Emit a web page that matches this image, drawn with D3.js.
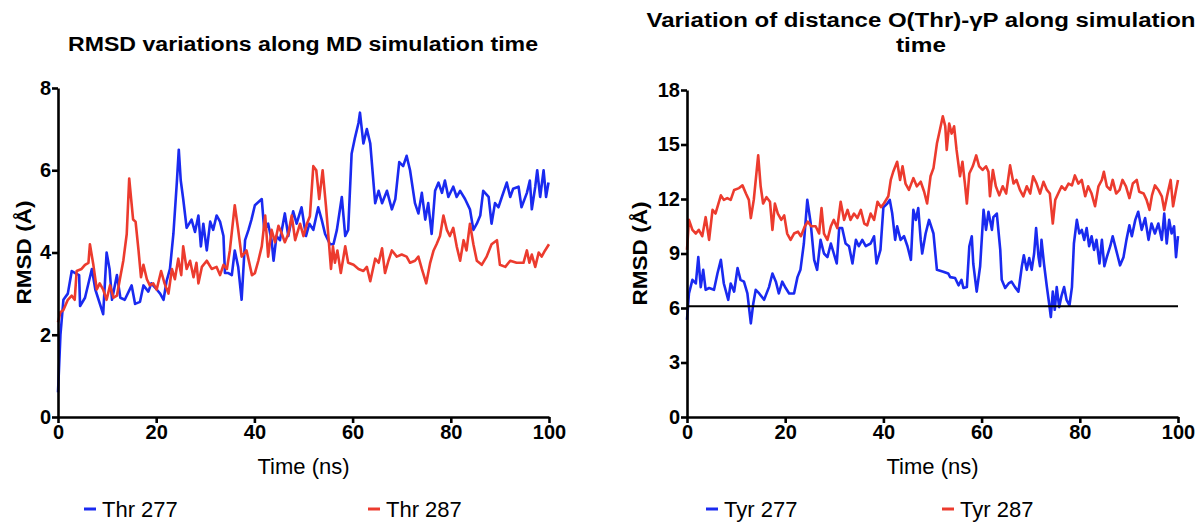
<!DOCTYPE html>
<html>
<head>
<meta charset="utf-8">
<script src="https://cdn.jsdelivr.net/npm/d3@7"></script>
<style>
  body { margin: 0; background: #fff; }
  svg { display: block; font-family: "Liberation Sans", Arial, sans-serif; }
</style>
</head>
<body>
<svg id="chart" width="1202" height="523"></svg>
<script>
// left panel: RMSD of Thr 277 / Thr 287
var thr277Time = [0, 0.5, 1.1, 2.0, 2.8, 3.5, 4.3, 4.5, 5.5, 6.9, 7.6, 9.2, 9.9, 10.5, 11.0, 12.0, 12.7, 13.6, 15.0, 15.7, 16.7, 17.4, 18.4, 19.0, 20.1, 20.8, 21.5, 22.1, 22.8, 23.5, 24.2, 24.6, 25.0, 25.5, 26.2, 27.2, 27.9, 28.6, 29.1, 29.6, 30.3, 31.0, 31.6, 32.3, 33.0, 33.7, 34.0, 34.7, 35.4, 36.0, 36.7, 37.4, 38.1, 38.8, 39.4, 40.1, 41.5, 42.0, 42.8, 43.5, 43.9, 44.5, 45.2, 46.2, 46.9, 47.9, 48.6, 49.6, 50.5, 51.2, 52.0, 53.0, 53.7, 54.4, 55.4, 56.1, 56.8, 57.8, 58.5, 59.1, 59.8, 60.5, 61.2, 61.5, 62.2, 62.9, 63.6, 64.6, 65.3, 66.0, 67.0, 68.0, 68.7, 69.5, 70.3, 71.0, 71.7, 72.7, 73.4, 74.1, 74.8, 75.4, 76.1, 76.8, 77.5, 78.2, 78.8, 79.5, 80.5, 81.2, 81.9, 82.9, 83.9, 84.6, 85.3, 86.0, 86.6, 87.7, 88.3, 89.0, 89.7, 90.4, 91.4, 92.1, 92.7, 93.8, 94.4, 95.5, 96.1, 96.5, 97.2, 97.6, 98.2, 98.9, 99.4, 99.9];
var thr277Rmsd = [0.6, 2.0, 2.85, 3.0, 3.55, 3.5, 3.45, 2.7, 2.9, 3.6, 3.1, 2.5, 4.0, 3.6, 2.85, 3.45, 2.9, 2.85, 3.2, 2.75, 2.8, 3.2, 3.05, 3.25, 3.1, 3.0, 2.85, 3.3, 3.6, 4.45, 5.7, 6.5, 5.75, 5.3, 4.6, 4.8, 4.5, 4.9, 4.15, 4.7, 4.05, 4.75, 4.55, 4.9, 4.75, 4.4, 3.5, 3.5, 3.45, 4.05, 3.65, 2.85, 4.3, 4.55, 4.8, 5.15, 5.3, 4.55, 4.7, 4.3, 3.8, 4.4, 4.3, 4.95, 4.4, 5.0, 4.7, 5.1, 4.4, 4.7, 4.55, 5.1, 4.8, 4.45, 4.2, 4.2, 4.55, 5.35, 4.4, 4.55, 6.4, 6.8, 7.15, 7.4, 6.65, 7.0, 6.65, 5.2, 5.5, 5.2, 5.5, 5.05, 5.3, 6.2, 6.1, 6.35, 6.0, 5.2, 4.95, 5.45, 4.8, 5.2, 4.45, 5.5, 5.7, 5.45, 5.75, 5.35, 5.6, 5.35, 5.5, 5.3, 5.05, 4.55, 4.7, 4.9, 5.5, 5.35, 4.7, 5.2, 5.1, 5.35, 5.7, 5.35, 5.55, 5.6, 5.1, 5.45, 5.75, 5.05, 5.6, 6.0, 5.35, 6.0, 5.35, 5.7];

var thr287Time = [0, 0.5, 1.1, 2.0, 2.8, 3.4, 3.8, 4.8, 5.5, 6.2, 6.5, 7.2, 7.9, 8.5, 9.2, 9.9, 10.6, 11.3, 12.0, 12.6, 13.3, 14.0, 14.5, 14.9, 15.3, 15.8, 16.4, 16.9, 17.4, 18.1, 18.7, 19.4, 20.1, 21.0, 21.7, 22.5, 23.2, 23.8, 24.5, 25.1, 25.5, 26.2, 26.9, 27.6, 28.2, 28.6, 29.3, 30.3, 31.3, 32.3, 33.0, 33.7, 34.4, 35.0, 36.0, 36.7, 37.4, 38.4, 39.5, 40.1, 40.8, 41.5, 42.2, 42.8, 43.5, 44.2, 44.9, 45.6, 46.2, 46.9, 47.6, 48.3, 49.3, 50.0, 50.7, 51.3, 52.0, 52.6, 53.2, 53.9, 54.6, 55.3, 55.6, 56.0, 56.4, 56.9, 57.6, 58.5, 59.1, 60.2, 61.2, 62.2, 62.9, 63.6, 64.6, 65.3, 66.0, 66.6, 67.3, 68.0, 69.0, 70.0, 71.0, 71.7, 72.7, 73.4, 74.1, 75.0, 75.8, 76.5, 77.1, 77.8, 78.5, 79.2, 79.8, 80.5, 81.2, 81.9, 82.6, 83.2, 83.9, 84.6, 85.3, 86.3, 87.3, 88.3, 89.4, 90.0, 91.1, 92.1, 93.4, 94.8, 95.5, 96.0, 96.5, 97.2, 97.9, 98.5, 99.2, 100];
var thr287Rmsd = [2.3, 2.55, 2.6, 2.85, 2.95, 2.85, 3.55, 3.6, 3.7, 3.75, 4.2, 3.7, 3.1, 3.25, 3.1, 2.85, 3.2, 2.9, 2.95, 3.35, 3.8, 4.45, 5.8, 5.3, 4.8, 4.75, 4.05, 3.4, 3.7, 3.35, 3.2, 3.25, 3.1, 3.55, 3.25, 3.0, 3.6, 3.35, 3.85, 3.45, 4.15, 3.6, 3.8, 3.4, 3.75, 3.25, 3.65, 3.8, 3.6, 3.65, 3.45, 3.7, 3.6, 4.05, 5.15, 4.55, 3.9, 4.05, 3.45, 3.5, 3.8, 4.15, 4.9, 3.9, 4.55, 4.25, 4.65, 4.45, 4.25, 4.45, 4.9, 4.3, 4.7, 4.4, 4.7, 4.88, 6.1, 6.0, 5.3, 6.0, 5.1, 4.05, 3.6, 4.15, 3.75, 4.05, 3.5, 4.15, 3.75, 3.7, 3.6, 3.55, 3.65, 3.3, 3.85, 3.75, 4.1, 3.5, 3.8, 4.05, 3.9, 3.95, 3.9, 3.75, 3.8, 3.9, 3.6, 3.25, 3.75, 4.05, 4.2, 4.4, 4.9, 4.55, 4.4, 4.6, 4.15, 3.8, 4.3, 4.05, 4.7, 4.2, 3.8, 3.7, 3.9, 4.2, 4.3, 3.7, 3.65, 3.8, 3.75, 3.75, 4.05, 3.75, 3.95, 3.65, 4.0, 3.9, 4.05, 4.2];

// right panel: O(Thr)-gammaP distance for Tyr 277 / Tyr 287
var tyr277Time = [0, 0.4, 1.1, 1.8, 2.3, 2.8, 3.3, 3.8, 4.5, 5.5, 6.2, 6.9, 7.5, 8.4, 8.9, 9.6, 10.3, 10.9, 11.6, 12.3, 13.0, 13.5, 14.0, 14.7, 15.7, 16.7, 17.4, 18.1, 18.7, 19.4, 20.1, 20.8, 21.8, 22.5, 23.1, 23.8, 24.5, 25.2, 25.9, 26.5, 27.2, 27.9, 28.6, 29.3, 29.9, 30.5, 31.0, 31.6, 32.3, 33.0, 33.7, 34.4, 35.0, 35.7, 36.4, 37.4, 38.1, 38.6, 39.4, 40.0, 40.8, 41.3, 41.8, 42.4, 42.8, 43.5, 44.2, 44.9, 45.6, 46.1, 46.6, 47.1, 47.6, 47.9, 48.6, 49.3, 50.2, 50.9, 52.2, 53.2, 53.6, 54.6, 55.3, 55.9, 56.3, 57.0, 57.5, 58.0, 58.3, 59.0, 59.7, 60.4, 60.9, 61.4, 62.1, 62.4, 63.1, 63.8, 64.1, 64.8, 65.5, 66.1, 66.8, 67.5, 68.2, 68.6, 69.2, 69.7, 70.2, 70.7, 71.1, 71.6, 71.9, 72.2, 72.7, 73.3, 73.8, 74.1, 74.5, 74.9, 75.3, 75.8, 76.3, 76.8, 77.3, 77.9, 78.4, 78.8, 79.4, 79.9, 80.4, 80.9, 81.4, 81.9, 82.4, 82.9, 83.4, 84.0, 84.5, 85.0, 85.5, 86.2, 86.7, 87.4, 88.2, 88.9, 89.5, 90.1, 90.6, 91.3, 91.9, 92.6, 93.3, 94.0, 94.6, 95.3, 96.0, 96.7, 97.2, 97.7, 98.2, 98.7, 99.2, 99.6, 100];
var tyr277Dist = [5.35, 6.8, 7.55, 7.35, 8.8, 7.15, 8.1, 7.0, 7.1, 7.0, 7.9, 8.65, 7.35, 6.45, 7.35, 6.9, 8.2, 7.55, 7.45, 6.8, 5.15, 6.25, 7.0, 6.8, 6.45, 7.15, 7.9, 7.45, 6.8, 7.45, 7.1, 6.8, 6.8, 7.7, 8.1, 9.55, 11.95, 10.65, 8.65, 8.1, 9.75, 9.0, 8.8, 9.55, 9.0, 8.45, 10.4, 10.4, 9.55, 9.4, 8.45, 9.75, 9.4, 9.75, 9.4, 9.55, 9.95, 8.45, 9.2, 11.55, 11.75, 11.95, 11.2, 9.75, 10.5, 9.75, 9.95, 9.4, 8.65, 11.4, 10.85, 11.5, 9.75, 9.0, 10.1, 10.85, 10.1, 8.1, 8.0, 7.9, 7.7, 7.65, 7.25, 7.55, 7.1, 7.15, 9.4, 9.95, 8.45, 6.9, 8.3, 11.4, 10.3, 11.3, 10.3, 11.0, 11.2, 9.2, 7.55, 7.1, 7.35, 7.45, 7.15, 6.9, 8.3, 8.9, 8.1, 8.75, 8.1, 9.0, 10.4, 8.8, 8.3, 9.75, 8.45, 7.15, 6.15, 5.5, 6.9, 5.9, 7.15, 6.05, 6.7, 7.15, 6.45, 6.15, 7.15, 9.55, 10.85, 10.1, 10.3, 9.75, 10.4, 9.4, 9.95, 9.2, 9.75, 8.45, 9.75, 8.3, 8.8, 9.4, 9.95, 9.2, 8.35, 8.8, 9.75, 10.55, 9.95, 10.85, 11.3, 10.3, 10.95, 9.75, 10.65, 10.1, 10.65, 9.75, 11.2, 9.55, 10.85, 10.1, 10.5, 8.8, 9.95];

var tyr287Time = [0, 0.4, 1.1, 1.8, 2.4, 3.1, 3.8, 4.5, 5.2, 5.8, 6.9, 7.5, 8.2, 8.9, 9.6, 10.6, 11.3, 12.0, 12.6, 13.0, 13.6, 14.5, 15.0, 15.5, 16.2, 16.9, 17.4, 17.9, 18.5, 19.2, 19.8, 20.4, 21.1, 21.8, 22.6, 23.2, 24.0, 24.6, 25.3, 26.2, 26.9, 27.4, 27.9, 28.6, 29.3, 29.9, 30.6, 31.3, 32.0, 32.7, 33.3, 34.0, 34.7, 35.4, 36.1, 36.7, 37.4, 38.1, 38.8, 39.5, 40.1, 41.0, 41.5, 42.0, 42.8, 43.4, 43.9, 44.5, 45.2, 46.1, 46.8, 47.6, 48.3, 48.9, 49.6, 50.2, 50.9, 51.5, 52.1, 52.6, 52.9, 53.4, 53.9, 54.4, 54.9, 55.6, 56.1, 56.6, 57.0, 57.5, 58.2, 58.9, 59.5, 60.2, 60.9, 61.4, 61.7, 62.3, 62.9, 63.6, 64.3, 65.0, 65.8, 66.5, 67.1, 67.8, 68.5, 69.2, 69.9, 70.5, 71.2, 71.9, 72.6, 73.3, 73.9, 74.5, 75.0, 75.6, 76.3, 77.0, 77.7, 78.4, 79.0, 79.7, 80.4, 81.1, 81.7, 82.4, 83.1, 83.8, 84.5, 84.9, 85.5, 86.2, 86.7, 87.4, 88.1, 88.7, 89.4, 90.1, 90.8, 91.6, 92.1, 93.0, 93.6, 94.2, 94.7, 95.3, 96.0, 96.7, 97.2, 97.8, 98.5, 99.0, 99.6, 100];
var tyr287Dist = [9.2, 10.85, 10.3, 10.1, 10.3, 9.95, 11.0, 9.75, 11.4, 11.2, 12.2, 11.95, 12.05, 11.95, 12.5, 12.6, 12.75, 12.3, 11.95, 10.95, 11.95, 14.4, 12.7, 11.75, 12.1, 11.85, 10.3, 11.75, 11.2, 10.85, 11.1, 10.1, 9.75, 10.1, 10.2, 9.95, 10.5, 10.75, 10.5, 10.5, 10.1, 11.5, 10.1, 9.75, 10.5, 10.85, 10.4, 11.85, 10.85, 11.4, 10.85, 11.2, 10.95, 11.4, 10.65, 10.55, 11.2, 10.85, 11.85, 11.55, 11.75, 12.15, 13.05, 13.5, 14.05, 13.05, 13.8, 12.85, 12.5, 13.15, 12.7, 12.95, 12.4, 11.75, 13.25, 13.7, 15.05, 15.8, 16.55, 16.0, 14.7, 16.15, 15.6, 16.0, 14.7, 13.25, 14.05, 12.85, 11.75, 13.4, 13.8, 14.4, 13.8, 13.6, 13.8, 13.5, 12.15, 13.6, 12.7, 12.2, 12.7, 12.3, 13.85, 12.85, 13.05, 12.5, 12.15, 12.7, 12.3, 13.25, 12.85, 12.3, 12.95, 12.5, 12.3, 10.65, 11.95, 12.3, 12.7, 12.5, 12.85, 12.75, 13.3, 12.85, 13.05, 12.15, 12.7, 12.3, 11.6, 12.7, 13.05, 13.5, 12.7, 12.5, 13.05, 12.3, 12.5, 13.05, 12.7, 12.05, 12.85, 13.05, 12.4, 12.3, 11.95, 11.4, 12.2, 12.75, 12.5, 12.15, 11.4, 12.2, 13.05, 11.6, 12.5, 13.05];

var xTicks = [0, 20, 40, 60, 80, 100];
var leftYTicks = [0, 2, 4, 6, 8];
var rightYTicks = [0, 3, 6, 9, 12, 15, 18];
var cutoffLine = 6.1;

var blue = "#1a2af0";
var red = "#ec3b2e";

var svg = d3.select("#chart");

function toPoints(ts, vs) {
    return ts.map(function (t, i) { return [t, vs[i]]; });
}

function drawPanel(p) {
    var x = d3.scaleLinear().domain([0, 100]).range([p.left, p.right]);
    var y = d3.scaleLinear().domain([0, p.yMax]).range([p.bottom, p.top]);

    var line = d3.line()
        .x(function (d) { return x(d[0]); })
        .y(function (d) { return y(d[1]); });

    var g = svg.append("g");

    p.series.forEach(function (s) {
        g.append("path")
            .datum(toPoints(s.t, s.v))
            .attr("d", line)
            .style("fill", "none")
            .style("stroke", s.color)
            .style("stroke-width", 2.6)
            .style("stroke-linejoin", "round");
    });

    if (p.hline != null) {
        g.append("line")
            .attr("x1", x(0)).attr("x2", x(100))
            .attr("y1", y(p.hline)).attr("y2", y(p.hline))
            .style("stroke", "#000")
            .style("stroke-width", 2);
    }

    var xAxis = g.append("g")
        .attr("transform", "translate(0," + p.bottom + ")")
        .call(d3.axisBottom(x).tickValues(xTicks).tickSize(6).tickSizeOuter(0).tickPadding(2));
    var yAxis = g.append("g")
        .attr("transform", "translate(" + p.left + ",0)")
        .call(d3.axisLeft(y).tickValues(p.yTicks).tickSize(6).tickSizeOuter(0).tickPadding(1));

    [xAxis, yAxis].forEach(function (a) {
        a.select(".domain").style("stroke", "#000").style("stroke-width", 2.6);
        a.selectAll(".tick line").style("stroke", "#000").style("stroke-width", 2.6);
        a.selectAll(".tick text")
            .style("font-family", "Liberation Sans, Arial, sans-serif")
            .style("font-weight", "bold")
            .style("font-size", "20px")
            .style("fill", "#000");
    });

    // axis titles
    svg.append("text")
        .attr("transform", "translate(" + p.yLabelX + "," + ((p.top + p.bottom) / 2) + ") rotate(-90)")
        .attr("text-anchor", "middle")
        .attr("dy", "0.35em")
        .attr("textLength", 104)
        .attr("lengthAdjust", "spacingAndGlyphs")
        .style("font-weight", "bold")
        .style("font-size", "21px")
        .text("RMSD (Å)");

    svg.append("text")
        .attr("x", (p.left + p.right) / 2)
        .attr("y", 474)
        .attr("text-anchor", "middle")
        .style("font-size", "22px")
        .text("Time (ns)");

    // titles
    p.title.forEach(function (t, i) {
        svg.append("text")
            .attr("x", p.titleX)
            .attr("y", p.titleY + i * 25)
            .attr("text-anchor", "middle")
            .attr("textLength", p.titleW[i])
            .attr("lengthAdjust", "spacingAndGlyphs")
            .style("font-weight", "bold")
            .style("font-size", "20px")
            .text(t);
    });

    // legend
    p.series.forEach(function (s, i) {
        var lx = p.legendX[i];
        svg.append("line")
            .attr("x1", lx).attr("x2", lx + 12)
            .attr("y1", 509).attr("y2", 509)
            .style("stroke", s.color)
            .style("stroke-width", 3);
        svg.append("text")
            .attr("x", lx + 18)
            .attr("y", 517)
            .style("font-size", "22px")
            .text(s.name);
    });
}

drawPanel({
    left: 58, right: 549, top: 88, bottom: 417,
    yMax: 8, yTicks: leftYTicks, yLabelX: 24,
    title: ["RMSD variations along MD simulation time"], titleW: [470], titleX: 303, titleY: 51,
    legendX: [84, 368],
    series: [
        { name: "Thr 277", t: thr277Time, v: thr277Rmsd, color: blue },
        { name: "Thr 287", t: thr287Time, v: thr287Rmsd, color: red }
    ]
});

drawPanel({
    left: 687, right: 1178, top: 90, bottom: 417,
    yMax: 18, yTicks: rightYTicks, yLabelX: 640, hline: cutoffLine,
    title: ["Variation of distance O(Thr)-\u03b3P along simulation", "time"], titleW: [549, 50], titleX: 921, titleY: 27,
    legendX: [706, 942],
    series: [
        { name: "Tyr 277", t: tyr277Time, v: tyr277Dist, color: blue },
        { name: "Tyr 287", t: tyr287Time, v: tyr287Dist, color: red }
    ]
});
</script>
</body>
</html>
